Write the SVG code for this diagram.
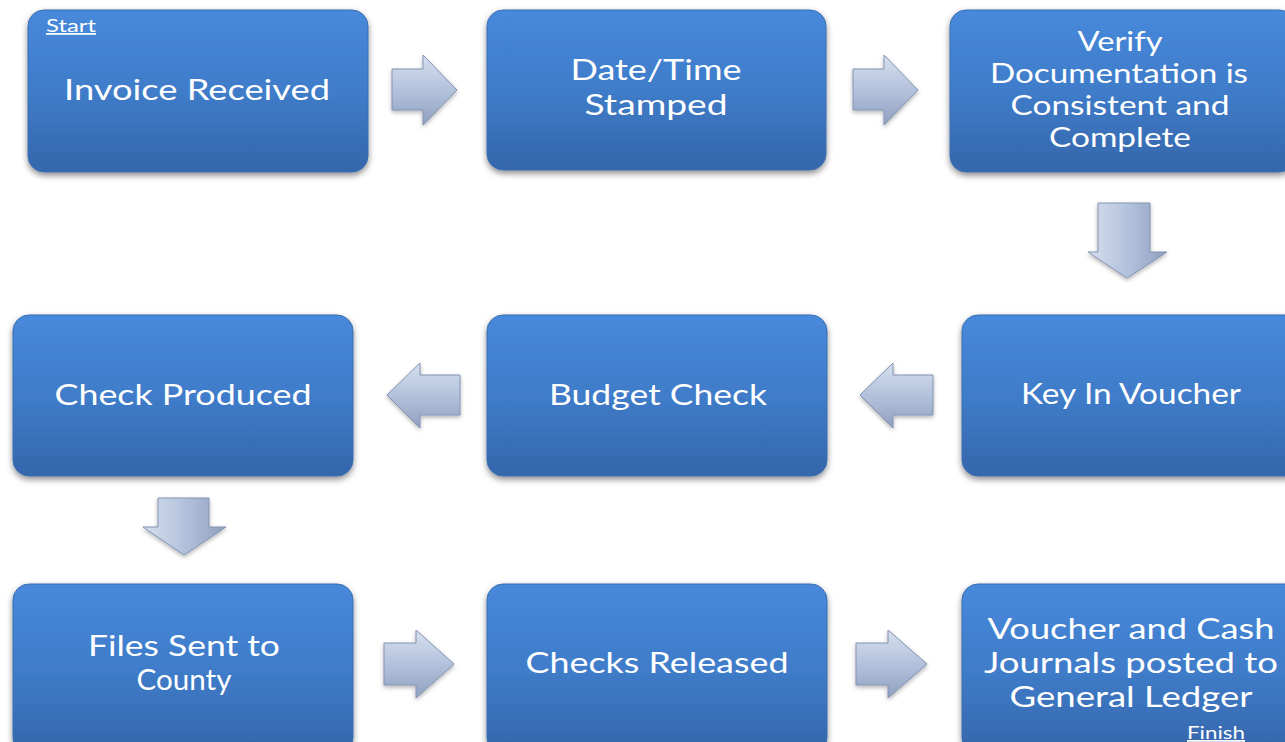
<svg xmlns="http://www.w3.org/2000/svg" width="1285" height="742" viewBox="0 0 1285 742">
<defs>
<linearGradient id="boxg" x1="0" y1="0" x2="0" y2="1">
<stop offset="0" stop-color="#4789db"/>
<stop offset="0.5" stop-color="#3f7cc9"/>
<stop offset="1" stop-color="#3566ab"/>
</linearGradient>
<linearGradient id="arrg" x1="0" y1="0" x2="0" y2="1">
<stop offset="0" stop-color="#d6dfee"/>
<stop offset="0.5" stop-color="#b3c2dc"/>
<stop offset="1" stop-color="#8f9fbf"/>
</linearGradient>
<linearGradient id="arrgh" x1="0" y1="0" x2="1" y2="0">
<stop offset="0" stop-color="#d6dfee"/>
<stop offset="0.5" stop-color="#b3c2dc"/>
<stop offset="1" stop-color="#8f9fbf"/>
</linearGradient>
<filter id="sh" x="-10%" y="-10%" width="120%" height="130%">
<feDropShadow dx="0" dy="3" stdDeviation="3" flood-color="#000" flood-opacity="0.45"/>
</filter>
<filter id="ash" x="-20%" y="-20%" width="140%" height="150%">
<feDropShadow dx="0" dy="2" stdDeviation="2" flood-color="#000" flood-opacity="0.3"/>
</filter>
</defs>
<style>
.box{fill:url(#boxg);stroke:#3a6db0;stroke-width:1;filter:url(#sh)}
.t{font-family:Lato,"Open Sans","Liberation Sans",sans-serif;font-size:28px;fill:#fff;text-anchor:middle}
.t3{font-size:26px}
.s{font-family:Lato,"Open Sans","Liberation Sans",sans-serif;font-size:18px;fill:#fff;text-decoration:underline}
.arr{fill:url(#arrg);stroke:#8293b4;stroke-width:1;filter:url(#ash)}
.arrv{fill:url(#arrgh);stroke:#8293b4;stroke-width:1;filter:url(#ash)}
</style>
<rect width="1285" height="742" fill="#fff"/>

<g id="connectors">
<path class="arr" d="M392,69 H423 V55 L457,90 L423,125 V110 H392 Z"/>
<path class="arr" d="M853,69 H884 V55 L918,90 L884,125 V110 H853 Z"/>
<path class="arrv" d="M1098,203 H1150 V252 H1167 L1127,278 L1088,252 H1098 Z"/>
<path class="arr" d="M933,375 H893 V363 L860,395 L893,428 V415 H933 Z"/>
<path class="arr" d="M460,375 H420 V363 L387,395 L420,428 V415 H460 Z"/>
<path class="arrv" d="M158,498 H209 V527 H226 L184,555 L143,527 H158 Z"/>
<path class="arr" d="M384,643 H416 V630 L454,664 L416,698 V685 H384 Z"/>
<path class="arr" d="M856,643 H888 V630 L927,664 L888,698 V685 H856 Z"/>
</g>

<g id="n1">
<rect class="box" x="28" y="10" width="340" height="162" rx="16"/>
<text class="s" x="46" y="32" textLength="50" lengthAdjust="spacingAndGlyphs">Start</text>
<text class="t" x="197" y="100" textLength="266" lengthAdjust="spacingAndGlyphs">Invoice Received</text>
</g>
<g id="n2">
<rect class="box" x="487" y="10" width="339" height="160" rx="16"/>
<text class="t" x="656" y="80" textLength="171" lengthAdjust="spacingAndGlyphs">Date/Time</text>
<text class="t" x="656" y="115" textLength="143" lengthAdjust="spacingAndGlyphs">Stamped</text>
</g>
<g id="n3">
<rect class="box" x="950" y="10" width="345" height="162" rx="16"/>
<text class="t t3" x="1120" y="51" textLength="85" lengthAdjust="spacingAndGlyphs">Verify</text>
<text class="t t3" x="1119" y="83" textLength="258" lengthAdjust="spacingAndGlyphs">Documentation is</text>
<text class="t t3" x="1120" y="115" textLength="219" lengthAdjust="spacingAndGlyphs">Consistent and</text>
<text class="t t3" x="1120" y="147" textLength="142" lengthAdjust="spacingAndGlyphs">Complete</text>
</g>
<g id="n4">
<rect class="box" x="962" y="315" width="340" height="161" rx="16"/>
<text class="t" x="1131" y="404" textLength="220" lengthAdjust="spacingAndGlyphs">Key In Voucher</text>
</g>
<g id="n5">
<rect class="box" x="487" y="315" width="340" height="161" rx="16"/>
<text class="t" x="658" y="405" textLength="218" lengthAdjust="spacingAndGlyphs">Budget Check</text>
</g>
<g id="n6">
<rect class="box" x="13" y="315" width="340" height="161" rx="16"/>
<text class="t" x="183" y="405" textLength="257" lengthAdjust="spacingAndGlyphs">Check Produced</text>
</g>
<g id="n7">
<rect class="box" x="13" y="584" width="340" height="170" rx="16"/>
<text class="t" x="184" y="656" textLength="192" lengthAdjust="spacingAndGlyphs">Files Sent to</text>
<text class="t" x="184" y="690" textLength="95" lengthAdjust="spacingAndGlyphs">County</text>
</g>
<g id="n8">
<rect class="box" x="487" y="584" width="340" height="170" rx="16"/>
<text class="t" x="657" y="673" textLength="263" lengthAdjust="spacingAndGlyphs">Checks Released</text>
</g>
<g id="n9">
<rect class="box" x="962" y="584" width="340" height="170" rx="16"/>
<text class="t" x="1131" y="639" textLength="287" lengthAdjust="spacingAndGlyphs">Voucher and Cash</text>
<text class="t" x="1131" y="673" textLength="294" lengthAdjust="spacingAndGlyphs">Journals posted to</text>
<text class="t" x="1131" y="707" textLength="243" lengthAdjust="spacingAndGlyphs">General Ledger</text>
<text class="s" x="1187" y="739" textLength="58" lengthAdjust="spacingAndGlyphs">Finish</text>
</g>
</svg>
